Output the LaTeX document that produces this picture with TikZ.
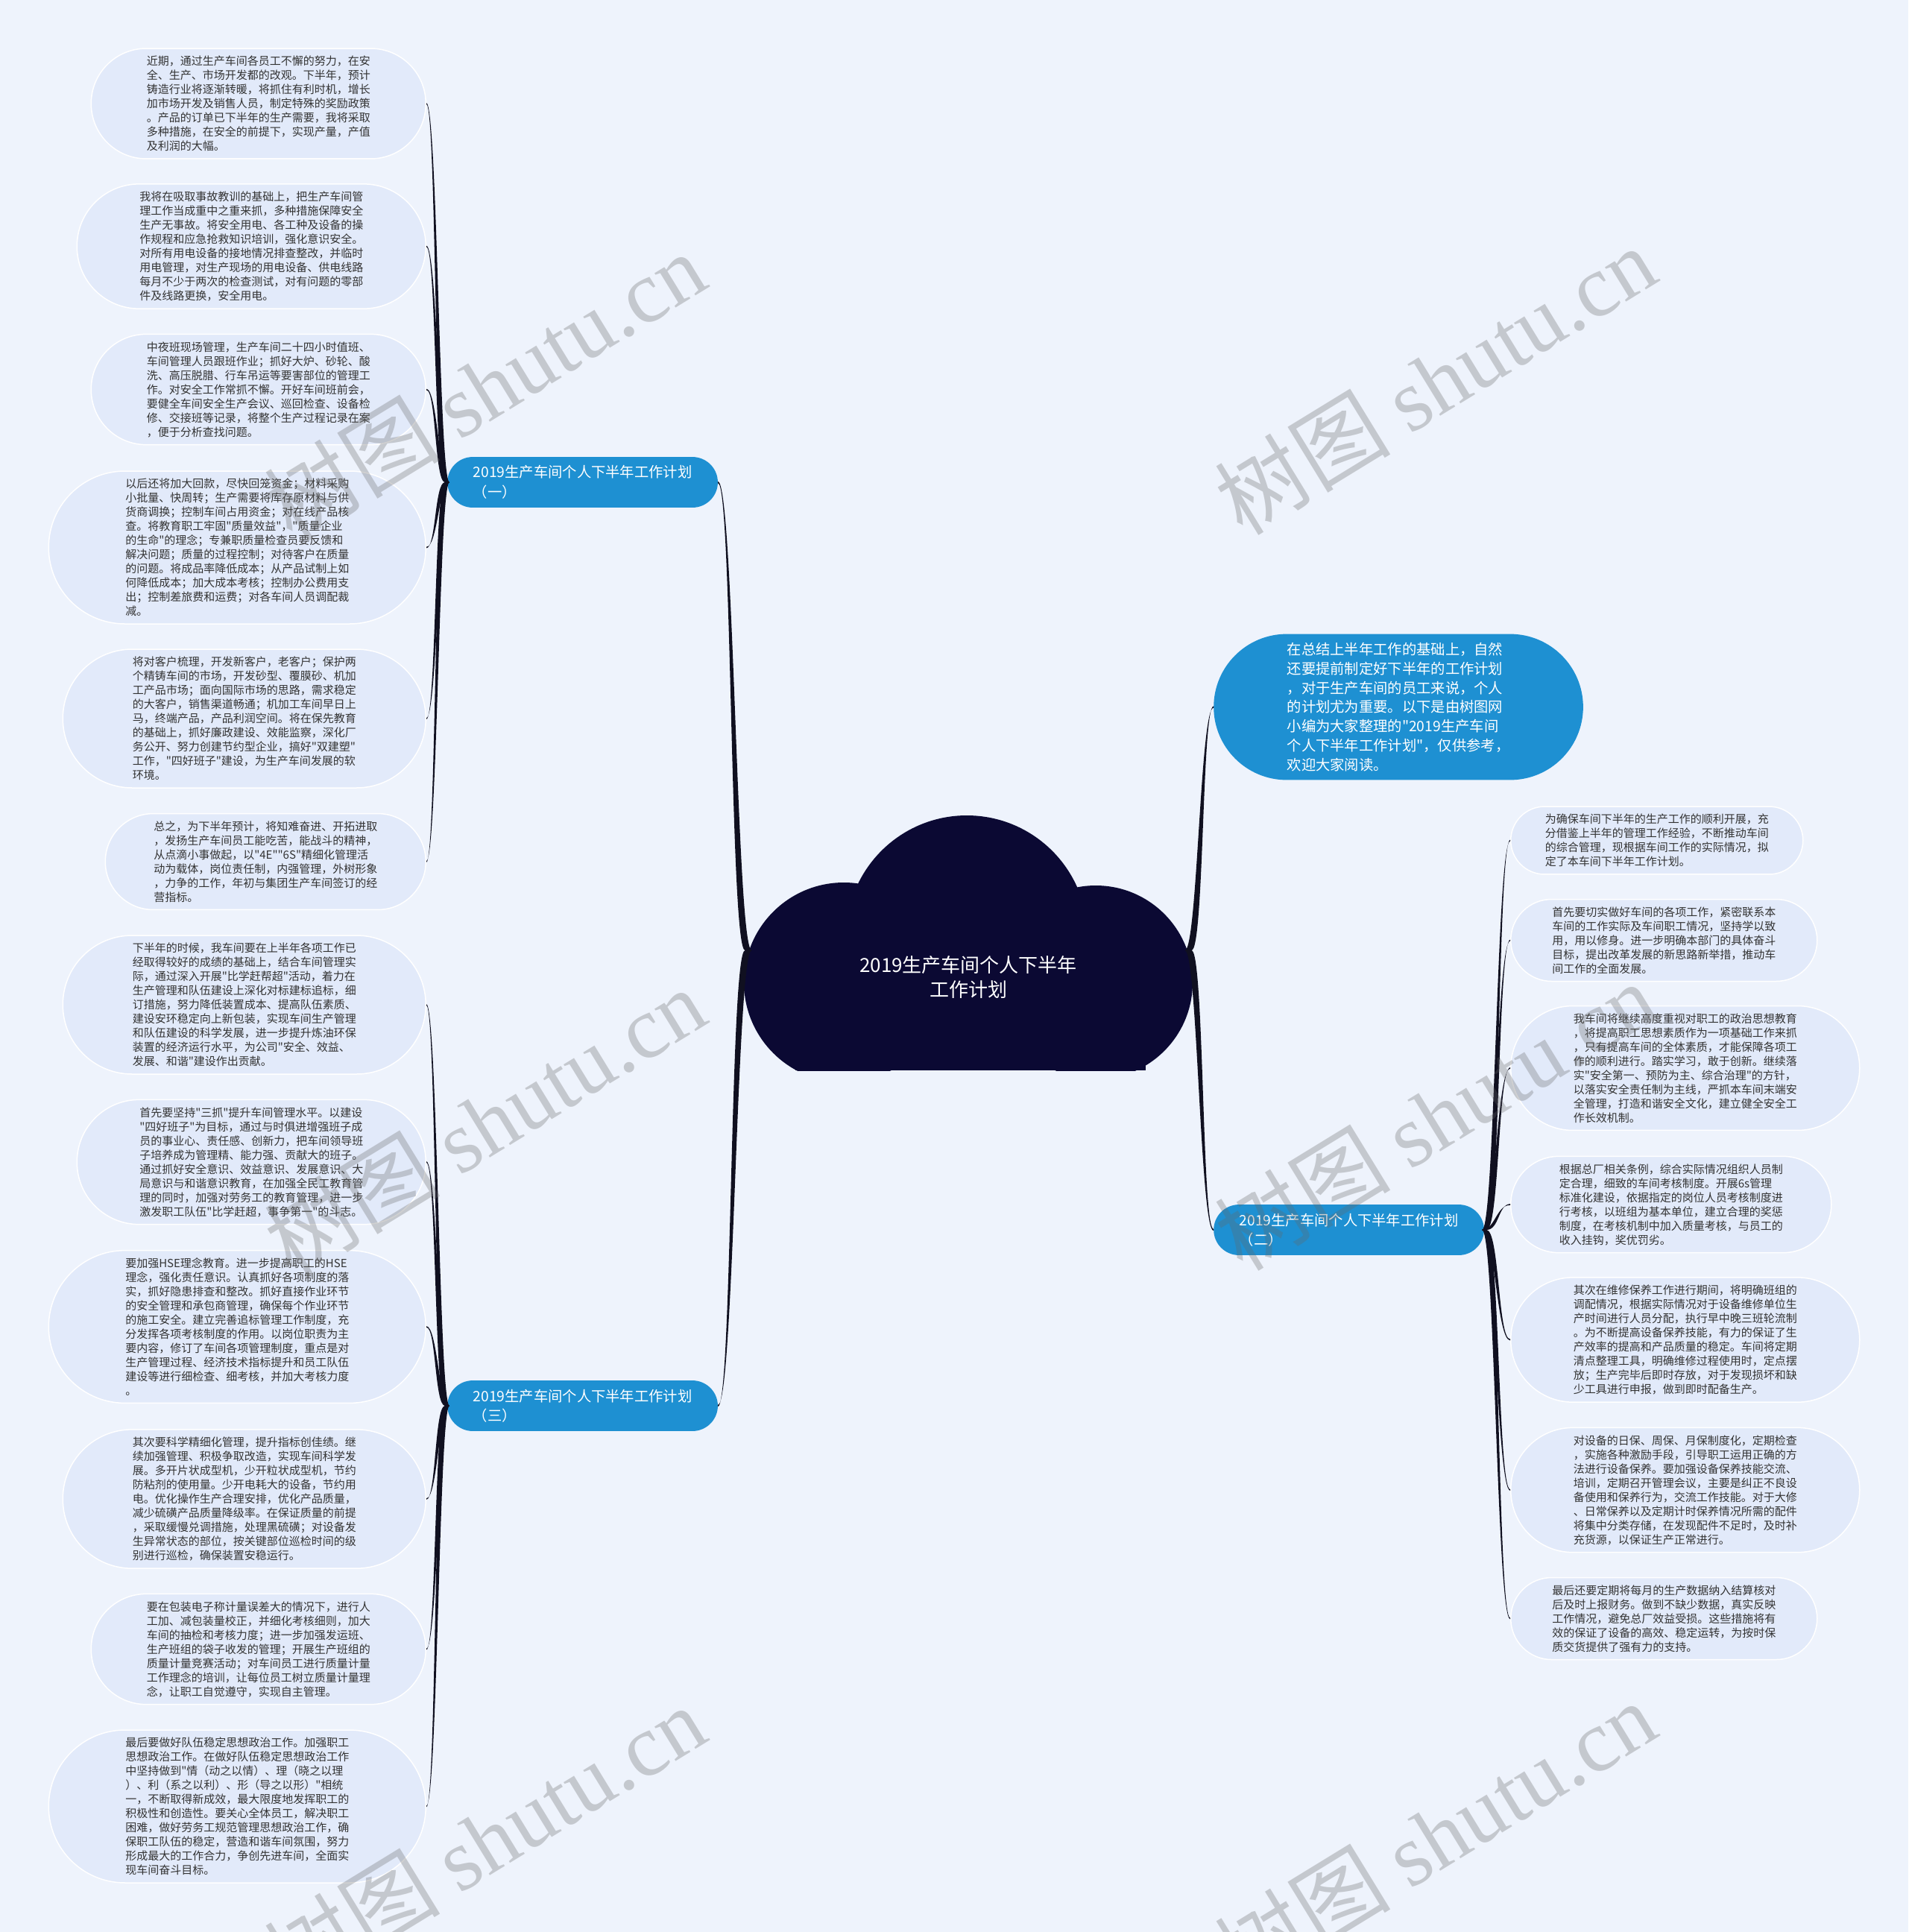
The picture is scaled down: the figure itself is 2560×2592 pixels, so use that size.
\documentclass[tikz,border=0pt]{standalone}
\usepackage{fontspec}
\newfontfamily\cjk{Noto Sans CJK SC}
\newfontfamily\wmlat{Liberation Serif}
\usetikzlibrary{calc}
\definecolor{bgc}{HTML}{EEF3FC}
\definecolor{leaffill}{HTML}{E2EAFA}
\definecolor{leaftext}{HTML}{333333}
\definecolor{bluec}{HTML}{1E90D2}
\definecolor{cloudc}{HTML}{0B0933}
\definecolor{linec}{HTML}{101020}
\tikzset{
  leaf/.style={rectangle, rounded corners=#1-0.6pt, fill=leaffill, draw=white, line width=1.5pt, inner xsep=#1, inner ysep=10pt, align=left, text=leaftext, font=\cjk\fontsize{15}{19}\selectfont},
  branchbox/.style={rectangle, rounded corners=34pt, fill=bluec, inner xsep=34.5pt, inner ysep=11.6pt, align=left, text=white, font=\cjk\fontsize{19.3}{26.5}\selectfont},
  introbox/.style={rectangle, rounded corners=98pt, fill=bluec, inner xsep=98.5pt, inner ysep=11.5pt, align=left, text=white, font=\cjk\fontsize{19.3}{25.8}\selectfont},
  centertext/.style={align=center, text=white, font=\cjk\fontsize{26}{33}\selectfont},
  wm/.style={rotate=31.5, text=black!60, opacity=0.3, font=\cjk\fontsize{118}{118}\selectfont}
}
\newcommand{\tconn}[4]{%
  \fill[linec] let \p1=(#1), \p2=(#2), \p3=($(#1)!0.5!(#2)$) in
    (\x1-#3,\y1) .. controls (\x3-#3,\y1) and (\x3-#4,\y2) .. (\x2,\y2-#4)
    -- (\x2,\y2+#4) .. controls (\x3+#4,\y2) and (\x3+#3,\y1) .. (\x1+#3,\y1) -- cycle;}
\begin{document}
\begin{tikzpicture}[x=1pt,y=-1pt]
\useasboundingbox (0,0) rectangle (2560,2592);
\fill[bgc] (0,0) rectangle (2560,2592);

% cloud
\begin{scope}
\clip (980,1070) rectangle (1620,1436);
\fill[cloudc] (1297,1256) circle (162);
\fill[cloudc] (1132,1318) circle (134);
\fill[cloudc] (1470,1318) circle (130);
\fill[cloudc] (1067,1270) rectangle (1537,1436);
\end{scope}
\node[centertext] (center) at (1299,1311) {2019生产车间个人下半年\\工作计划};
\coordinate (cL) at (1004,1275);
\coordinate (cR) at (1594,1275);

% branch labels
\node[branchbox, anchor=west] (b1) at (600,647) {2019生产车间个人下半年工作计划\\（一）};
\node[branchbox, anchor=west] (b3) at (600,1886) {2019生产车间个人下半年工作计划\\（三）};
\node[branchbox, anchor=west] (b2) at (1628,1650) {2019生产车间个人下半年工作计划\\（二）};
\node[introbox, anchor=west] (intro) at (1628,948.5) {在总结上半年工作的基础上，自然\\还要提前制定好下半年的工作计划\\，对于生产车间的员工来说，个人\\的计划尤为重要。以下是由树图网\\小编为大家整理的"2019生产车间\\个人下半年工作计划"，仅供参考，\\欢迎大家阅读。};

% left leaves, group one
\node[leaf=74.5pt, anchor=east] (l1) at (572,139) {近期，通过生产车间各员工不懈的努力，在安\\全、生产、市场开发都的改观。下半年，预计\\铸造行业将逐渐转暖，将抓住有利时机，增长\\加市场开发及销售人员，制定特殊的奖励政策\\。产品的订单已下半年的生产需要，我将采取\\多种措施，在安全的前提下，实现产量，产值\\及利润的大幅。};
\node[leaf=84pt, anchor=east] (l2) at (572,330.5) {我将在吸取事故教训的基础上，把生产车间管\\理工作当成重中之重来抓，多种措施保障安全\\生产无事故。将安全用电、各工种及设备的操\\作规程和应急抢救知识培训，强化意识安全。\\对所有用电设备的接地情况排查整改，并临时\\用电管理，对生产现场的用电设备、供电线路\\每月不少于两次的检查测试，对有问题的零部\\件及线路更换，安全用电。};
\node[leaf=74.5pt, anchor=east] (l3) at (572,522.5) {中夜班现场管理，生产车间二十四小时值班、\\车间管理人员跟班作业；抓好大炉、砂轮、酸\\洗、高压脱腊、行车吊运等要害部位的管理工\\作。对安全工作常抓不懈。开好车间班前会，\\要健全车间安全生产会议、巡回检查、设备检\\修、交接班等记录，将整个生产过程记录在案\\，便于分析查找问题。};
\node[leaf=103pt, anchor=east] (l4) at (572,734.5) {以后还将加大回款，尽快回笼资金；材料采购\\小批量、快周转；生产需要将库存原材料与供\\货商调换；控制车间占用资金；对在线产品核\\查。将教育职工牢固"质量效益"，"质量企业\\的生命"的理念；专兼职质量检查员要反馈和\\解决问题；质量的过程控制；对待客户在质量\\的问题。将成品率降低成本；从产品试制上如\\何降低成本；加大成本考核；控制办公费用支\\出；控制差旅费和运费；对各车间人员调配裁\\减。};
\node[leaf=93.5pt, anchor=east] (l5) at (572,964) {将对客户梳理，开发新客户，老客户；保护两\\个精铸车间的市场，开发砂型、覆膜砂、机加\\工产品市场；面向国际市场的思路，需求稳定\\的大客户，销售渠道畅通；机加工车间早日上\\马，终端产品，产品利润空间。将在保先教育\\的基础上，抓好廉政建设、效能监察，深化厂\\务公开、努力创建节约型企业，搞好"双建塑"\\工作，"四好班子"建设，为生产车间发展的软\\环境。};
\node[leaf=65pt, anchor=east] (l6) at (572,1156) {总之，为下半年预计，将知难奋进、开拓进取\\，发扬生产车间员工能吃苦，能战斗的精神，\\从点滴小事做起，以"4E""6S"精细化管理活\\动为载体，岗位责任制，内强管理，外树形象\\，力争的工作，年初与集团生产车间签订的经\\营指标。};

% left leaves, group three
\node[leaf=93.5pt, anchor=east] (l7) at (572,1348) {下半年的时候，我车间要在上半年各项工作已\\经取得较好的成绩的基础上，结合车间管理实\\际，通过深入开展"比学赶帮超"活动，着力在\\生产管理和队伍建设上深化对标建标追标，细\\订措施，努力降低装置成本、提高队伍素质、\\建设安环稳定向上新包装，实现车间生产管理\\和队伍建设的科学发展，进一步提升炼油环保\\装置的经济运行水平，为公司"安全、效益、\\发展、和谐"建设作出贡献。};
\node[leaf=84pt, anchor=east] (l8) at (572,1559) {首先要坚持"三抓"提升车间管理水平。以建设\\"四好班子"为目标，通过与时俱进增强班子成\\员的事业心、责任感、创新力，把车间领导班\\子培养成为管理精、能力强、贡献大的班子。\\通过抓好安全意识、效益意识、发展意识、大\\局意识与和谐意识教育，在加强全民工教育管\\理的同时，加强对劳务工的教育管理，进一步\\激发职工队伍"比学赶超，事争第一"的斗志。};
\node[leaf=103pt, anchor=east] (l9) at (572,1780) {要加强HSE理念教育。进一步提高职工的HSE\\理念，强化责任意识。认真抓好各项制度的落\\实，抓好隐患排查和整改。抓好直接作业环节\\的安全管理和承包商管理，确保每个作业环节\\的施工安全。建立完善追标管理工作制度，充\\分发挥各项考核制度的作用。以岗位职责为主\\要内容，修订了车间各项管理制度，重点是对\\生产管理过程、经济技术指标提升和员工队伍\\建设等进行细检查、细考核，并加大考核力度\\。};
\node[leaf=93.5pt, anchor=east] (l10) at (572,2011) {其次要科学精细化管理，提升指标创佳绩。继\\续加强管理、积极争取改造，实现车间科学发\\展。多开片状成型机，少开粒状成型机，节约\\防粘剂的使用量。少开电耗大的设备，节约用\\电。优化操作生产合理安排，优化产品质量，\\减少硫磺产品质量降级率。在保证质量的前提\\，采取缓慢兑调措施，处理黑硫磺；对设备发\\生异常状态的部位，按关键部位巡检时间的级\\别进行巡检，确保装置安稳运行。};
\node[leaf=74.5pt, anchor=east] (l11) at (572,2212.5) {要在包装电子称计量误差大的情况下，进行人\\工加、减包装量校正，并细化考核细则，加大\\车间的抽检和考核力度；进一步加强发运班、\\生产班组的袋子收发的管理；开展生产班组的\\质量计量竞赛活动；对车间员工进行质量计量\\工作理念的培训，让每位员工树立质量计量理\\念，让职工自觉遵守，实现自主管理。};
\node[leaf=103pt, anchor=east] (l12) at (572,2423.5) {最后要做好队伍稳定思想政治工作。加强职工\\思想政治工作。在做好队伍稳定思想政治工作\\中坚持做到"情（动之以情）、理（晓之以理\\）、利（系之以利）、形（导之以形）"相统\\一，不断取得新成效，最大限度地发挥职工的\\积极性和创造性。要关心全体员工，解决职工\\困难，做好劳务工规范管理思想政治工作，确\\保职工队伍的稳定，营造和谐车间氛围，努力\\形成最大的工作合力，争创先进车间，全面实\\现车间奋斗目标。};

% right leaves, group two
\node[leaf=46pt, anchor=west] (r1) at (2026,1127.5) {为确保车间下半年的生产工作的顺利开展，充\\分借鉴上半年的管理工作经验，不断推动车间\\的综合管理，现根据车间工作的实际情况，拟\\定了本车间下半年工作计划。};
\node[leaf=55.5pt, anchor=west] (r2) at (2026,1261.5) {首先要切实做好车间的各项工作，紧密联系本\\车间的工作实际及车间职工情况，坚持学以致\\用，用以修身。进一步明确本部门的具体奋斗\\目标，提出改革发展的新思路新举措，推动车\\间工作的全面发展。};
\node[leaf=84pt, anchor=west] (r3) at (2026,1433) {我车间将继续高度重视对职工的政治思想教育\\，将提高职工思想素质作为一项基础工作来抓\\，只有提高车间的全体素质，才能保障各项工\\作的顺利进行。踏实学习，敢于创新。继续落\\实"安全第一、预防为主、综合治理"的方针，\\以落实安全责任制为主线，严抓本车间末端安\\全管理，打造和谐安全文化，建立健全安全工\\作长效机制。};
\node[leaf=65pt, anchor=west] (r4) at (2026,1616) {根据总厂相关条例，综合实际情况组织人员制\\定合理，细致的车间考核制度。开展6s管理\\标准化建设，依据指定的岗位人员考核制度进\\行考核，以班组为基本单位，建立合理的奖惩\\制度，在考核机制中加入质量考核，与员工的\\收入挂钩，奖优罚劣。};
\node[leaf=84pt, anchor=west] (r5) at (2026,1797.5) {其次在维修保养工作进行期间，将明确班组的\\调配情况，根据实际情况对于设备维修单位生\\产时间进行人员分配，执行早中晚三班轮流制\\。为不断提高设备保养技能，有力的保证了生\\产效率的提高和产品质量的稳定。车间将定期\\清点整理工具，明确维修过程使用时，定点摆\\放；生产完毕后即时存放，对于发现损坏和缺\\少工具进行申报，做到即时配备生产。};
\node[leaf=84pt, anchor=west] (r6) at (2026,1999) {对设备的日保、周保、月保制度化，定期检查\\，实施各种激励手段，引导职工运用正确的方\\法进行设备保养。要加强设备保养技能交流、\\培训，定期召开管理会议，主要是纠正不良设\\备使用和保养行为，交流工作技能。对于大修\\、日常保养以及定期计时保养情况所需的配件\\将集中分类存储，在发现配件不足时，及时补\\充货源，以保证生产正常进行。};
\node[leaf=55.5pt, anchor=west] (r7) at (2026,2171.5) {最后还要定期将每月的生产数据纳入结算核对\\后及时上报财务。做到不缺少数据，真实反映\\工作情况，避免总厂效益受损。这些措施将有\\效的保证了设备的高效、稳定运转，为按时保\\质交货提供了强有力的支持。};

% connectors
\tconn{cL}{b1.east}{4.5pt}{1.2pt}
\tconn{cL}{b3.east}{4.5pt}{1.2pt}
\tconn{cR}{intro.west}{4.5pt}{1.2pt}
\tconn{cR}{b2.west}{4.5pt}{1.2pt}
\foreach \i in {1,...,6} {\tconn{b1.west}{l\i.east}{3pt}{0.9pt}}
\foreach \i in {7,...,12} {\tconn{b3.west}{l\i.east}{3pt}{0.9pt}}
\foreach \i in {1,...,7} {\tconn{b2.east}{r\i.west}{3pt}{0.9pt}}

% watermarks
\node[wm] (w1) at (650,518) {树图 {\wmlat shutu.cn}};
\node[wm] (w2) at (1925,510) {树图 {\wmlat shutu.cn}};
\node[wm] (w3) at (650,1505) {树图 {\wmlat shutu.cn}};
\node[wm] (w4) at (1925,1497) {树图 {\wmlat shutu.cn}};
\node[wm] (w5) at (650,2468) {树图 {\wmlat shutu.cn}};
\node[wm] (w6) at (1925,2462) {树图 {\wmlat shutu.cn}};
\end{tikzpicture}
\end{document}
